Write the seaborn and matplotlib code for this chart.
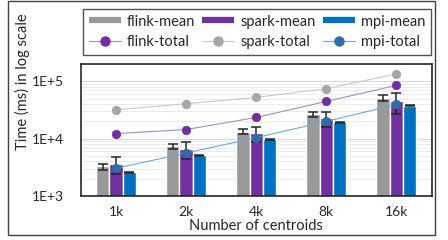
import numpy as np
import pandas as pd
import matplotlib
matplotlib.use("Agg")
import matplotlib.pyplot as plt
from matplotlib.lines import Line2D
from matplotlib.patches import Rectangle
from matplotlib.ticker import FixedLocator, FuncFormatter, LogLocator
import seaborn as sns

categories = ['1k', '2k', '4k', '8k', '16k']
flink_mean = [3270, 7330, 13270, 26400, 51000]
spark_mean = [3600, 6600, 12400, 22800, 45200]
mpi_mean = [2570, 5090, 9730, 19400, 37400]
flink_err = [400, 600, 1450, 2600, 6100]
spark_err = [1200, 2240, 3650, 6700, 18000]
mpi_err = [60, 120, 200, 350, 600]
flink_total = [12250, 14400, 23400, 44600, 85000]
spark_total = [31800, 40600, 52400, 74300, 134000]
mpi_total = [3050, 5600, 10400, 19900, 39500]

series_names = ['flink-mean', 'spark-mean', 'mpi-mean']
bar_colors = ['#999999', '#7030A0', '#0070C0']
total_names = ['flink-total', 'spark-total', 'mpi-total']
total_colors = ['#7030A0', '#A6A6A6', '#2E6DA8']
line_colors = ['#A68BC8', '#C8C8C8', '#6FA8DC']

df = pd.DataFrame({
    'cat': categories * 3,
    'val': flink_mean + spark_mean + mpi_mean,
    'series': sum([[n] * len(categories) for n in series_names], []),
})

sns.set_style('white')
plt.rcParams['font.family'] = ['Lato', 'DejaVu Sans']
text_color = '#262626'

fig = plt.figure(figsize=(4.48, 2.4), dpi=100)
ax = fig.add_axes([81 / 448, 1 - 196 / 240, 350.5 / 448, 132 / 240])

sns.barplot(data=df, x='cat', y='val', hue='series', order=categories,
            hue_order=series_names, palette=bar_colors, width=0.57,
            errorbar=None, legend=False, ax=ax, saturation=1, zorder=2)

errs = [flink_err, spark_err, mpi_err]
means = [flink_mean, spark_mean, mpi_mean]
for cont, e, m in zip(ax.containers, errs, means):
    xs = [b.get_x() + b.get_width() / 2 for b in cont]
    ax.errorbar(xs, m, yerr=e, fmt='none', ecolor='#262626', elinewidth=1.1,
                capsize=3.5, capthick=1.1, zorder=3)

totals = [flink_total, spark_total, mpi_total]
for t, c in zip(totals, total_colors):
    sns.pointplot(x=categories, y=t, order=categories, color=c, markers='o',
                  markersize=6, linewidth=0.8, errorbar=None, ax=ax)
for ln, tc, lc in zip(ax.lines[-len(totals):], total_colors, line_colors):
    ln.set_color(lc)
    ln.set_markerfacecolor(tc)
    ln.set_markeredgecolor(tc)
    ln.set_linewidth(0.8)
    ln.set_zorder(4)

ax.set_yscale('log')
ax.set_ylim(1000, 200000)
ax.set_xlim(-0.5, 4.5)
ax.yaxis.set_major_locator(FixedLocator([1e3, 1e4, 1e5]))
ax.yaxis.set_major_formatter(FuncFormatter(lambda v, p: '1E+%d' % int(round(np.log10(v)))))
ax.yaxis.set_minor_locator(LogLocator(base=10, subs=np.arange(2, 10)))
ax.yaxis.set_minor_formatter(FuncFormatter(lambda v, p: ''))
ax.grid(True, which='major', axis='y', color='#D9D9D9', linewidth=0.9, zorder=0)
ax.grid(True, which='minor', axis='y', color='#EBEBEB', linewidth=0.7, zorder=0)
ax.set_axisbelow(True)
ax.tick_params(axis='both', which='both', length=0, labelsize=10,
               colors=text_color)
ax.tick_params(axis='y', pad=12)
ax.tick_params(axis='x', pad=7)
for s in ax.spines.values():
    s.set_color('#262626')
    s.set_linewidth(1.2)
    s.set_visible(True)
ax.set_xlabel('Number of centroids', fontsize=10.5, color=text_color, labelpad=1)
ax.set_ylabel('')
fig.text(22 / 448, 1 - 82 / 240, 'Time (ms) in log scale', rotation=90,
         ha='center', va='center', fontsize=10.5, color=text_color)

handles = []
labels = []
for bn, bc, tn, tc, lc in zip(series_names, bar_colors, total_names, total_colors, line_colors):
    handles.append(Line2D([0], [0], color=bc, linewidth=4.5, solid_capstyle='butt'))
    labels.append(bn)
    handles.append(Line2D([0], [0], color=lc, linewidth=0.8, marker='o',
                          markersize=6.5, markerfacecolor=tc, markeredgecolor=tc))
    labels.append(tn)
leg = fig.legend(handles, labels, ncol=3, loc='lower left', mode='expand',
                 bbox_to_anchor=(82.7 / 448, 1 - 55 / 240, (431 - 82.7) / 448, 47.7 / 240),
                 borderaxespad=0, frameon=True, fontsize=10.5, handlelength=2.2,
                 handletextpad=0.4, labelspacing=0.45, borderpad=0.4,
                 fancybox=False, labelcolor=text_color)
leg.get_frame().set_edgecolor('#262626')
leg.get_frame().set_linewidth(1.0)

fig.patches.append(Rectangle((8 / 448, 5 / 240), 427 / 448, 234 / 240,
                             transform=fig.transFigure, fill=False,
                             edgecolor='#404040', linewidth=1.0))

fig.savefig('out.png', dpi=100)
